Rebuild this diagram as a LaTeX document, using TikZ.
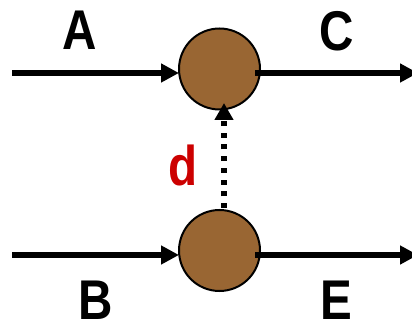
\documentclass[tikz,border=0pt]{standalone}
\usepackage{fontspec}
\setmainfont{Liberation Sans}
\usetikzlibrary{arrows.meta}
\definecolor{ballbrown}{RGB}{153,102,51}
\definecolor{labred}{RGB}{204,0,0}
\tikzset{
  ball/.style={circle,draw=black,line width=2pt,fill=ballbrown,minimum size=81pt,inner sep=0pt,outer sep=0pt},
  flow/.style={line width=6pt,-{Triangle[length=18pt,width=18pt]}},
  link/.style={line width=5.5pt,dash pattern=on 5pt off 6.7pt,-{Triangle[length=17pt,width=18pt]}},
  lab/.style={font=\fontsize{56}{56}\selectfont\bfseries,xscale=0.85,inner sep=0pt,text=black},
}
\begin{document}
\begin{tikzpicture}[x=1pt,y=-1pt]
\useasboundingbox (0,0) rectangle (412,323);
\node[ball] (top) at (219.5,69) {};
\node[ball] (bot) at (219.5,250.5) {};
\coordinate (a0) at (12,73);
\coordinate (c0) at (255,73);
\coordinate (c1) at (418,73);
\coordinate (b0) at (12,255);
\coordinate (e0) at (255,255);
\coordinate (e1) at (418,255);
\coordinate (dbot) at (224,208);
\coordinate (dtop) at (224,103);
\draw[flow] (a0) -- (a0 -| top.west);
\draw[flow] (b0) -- (b0 -| bot.west);
\draw[flow] (c0) -- (c1);
\draw[flow] (e0) -- (e1);
\draw[link] (dbot) -- (dtop);
\node[lab] (la) at (80,30) {A};
\node[lab] (lc) at (337,31) {C};
\node[lab] (lb) at (96,300) {B};
\node[lab] (le) at (336,300) {E};
\node[lab,text=labred] (ld) at (183.5,165) {d};
\end{tikzpicture}
\end{document}
